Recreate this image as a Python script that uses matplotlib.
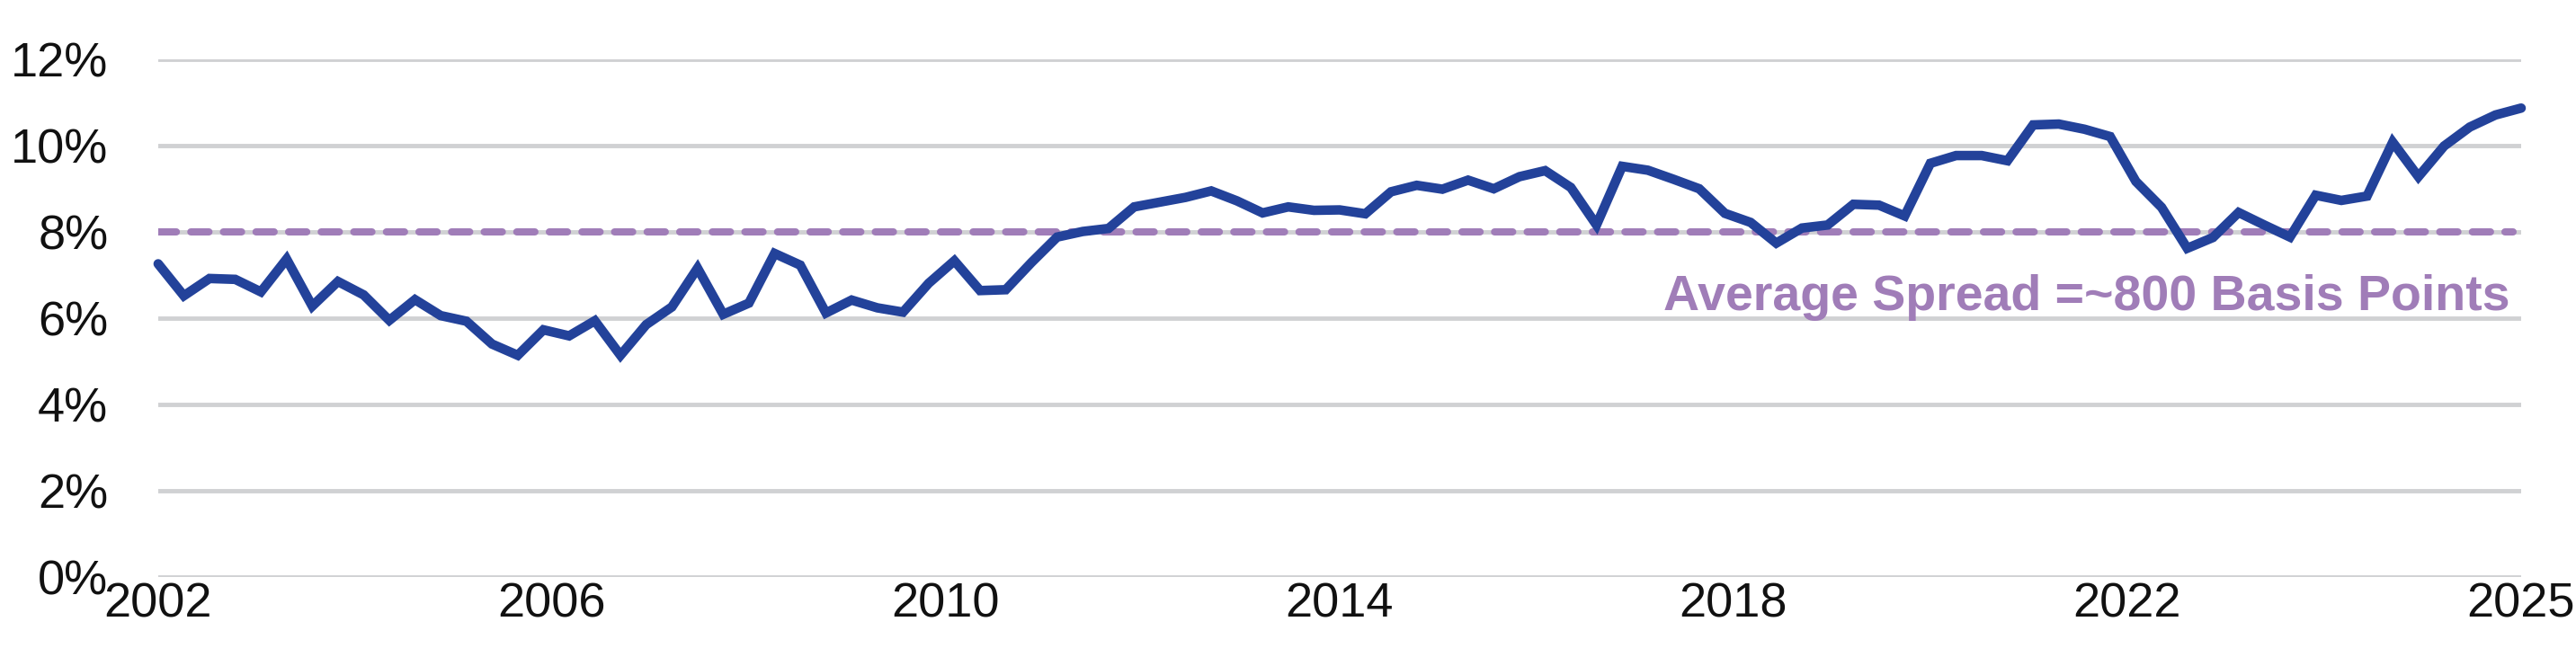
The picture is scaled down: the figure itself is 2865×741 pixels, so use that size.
"""High-yield spread vs. long-run average, quarterly 2002-2025."""

from __future__ import annotations

import matplotlib

matplotlib.use("Agg")
import matplotlib.pyplot as plt
import numpy as np
import pandas as pd
from matplotlib.ticker import FuncFormatter

# --- data -------------------------------------------------------------------
quarters = pd.period_range("2002Q1", "2025Q1", freq="Q")

spread_pct = [
    7.26, 6.52, 6.92, 6.90, 6.61, 7.37, 6.28, 6.85, 6.54, 5.95, 6.43, 6.06,
    5.93, 5.40, 5.14, 5.73, 5.59, 5.94, 5.14, 5.85, 6.26, 7.16, 6.09, 6.35,
    7.50, 7.23, 6.12, 6.42, 6.24, 6.14, 6.81, 7.33, 6.64, 6.66, 7.29, 7.88,
    8.01, 8.08, 8.58, 8.69, 8.80, 8.95, 8.72, 8.44, 8.58, 8.50, 8.51, 8.42,
    8.93, 9.08, 8.99, 9.20, 9.00, 9.28, 9.42, 9.03, 8.16, 9.52, 9.43, 9.22,
    9.00, 8.43, 8.22, 7.74, 8.09, 8.16, 8.64, 8.62, 8.37, 9.59, 9.77, 9.77,
    9.65, 10.48, 10.50, 10.38, 10.21, 9.17, 8.57, 7.62, 7.87, 8.45, 8.16, 7.88,
    8.85, 8.73, 8.83, 10.08, 9.28, 9.99, 10.43, 10.71, 10.87,
]

average_spread_pct = 8.0
annotation = "Average Spread =~800 Basis Points"

x_tick_labels = ["2002", "2006", "2010", "2014", "2018", "2022", "2025"]
y_ticks = [0, 2, 4, 6, 8, 10, 12]

# --- style ------------------------------------------------------------------
LINE_BLUE = "#23429A"
AVG_PURPLE = "#A07DB8"
GRID_GREY = "#D0D1D3"
TICK_FONT = ["Liberation Sans", "DejaVu Sans"]
NOTE_FONT = ["Liberation Sans", "DejaVu Sans"]


def main() -> None:
    fig = plt.figure(figsize=(28.65, 7.41), dpi=100)
    ax = fig.add_axes([0.0614, 0.1336, 0.9173, 0.7773])

    x = np.arange(len(quarters))

    ax.set_ylim(0, 12)
    ax.set_xlim(x[0], x[-1])
    ax.set_yticks(y_ticks)
    ax.yaxis.set_major_formatter(FuncFormatter(lambda v, _: f"{v:.0f}%"))
    ax.set_xticks(np.linspace(x[0], x[-1], len(x_tick_labels)))
    ax.set_xticklabels(x_tick_labels)

    for v in y_ticks:
        ax.axhline(v, color=GRID_GREY, linewidth=3.5, zorder=1)

    ax.plot(
        [x[0], x[-1] - 0.3], [average_spread_pct] * 2,
        color=AVG_PURPLE, linewidth=5.8, dashes=(2.5, 2.0),
        dash_capstyle="round", zorder=2,
    )
    ax.plot(
        x, spread_pct, color=LINE_BLUE, linewidth=7.6,
        solid_joinstyle="miter", solid_capstyle="round",
        zorder=3, clip_on=False,
    )

    ax.text(
        x[-1] - 0.45, 6.19, annotation, ha="right", va="baseline",
        color=AVG_PURPLE, fontsize=40, fontweight="bold", family=NOTE_FONT,
    )

    for spine in ax.spines.values():
        spine.set_visible(False)
    ax.tick_params(axis="both", length=0, labelsize=39, colors="#111111")
    ax.tick_params(axis="y", pad=40)
    ax.tick_params(axis="x", pad=4)
    for lab in ax.get_xticklabels() + ax.get_yticklabels():
        lab.set_family(TICK_FONT)

    fig.savefig("out.png", dpi=100)


if __name__ == "__main__":
    main()
